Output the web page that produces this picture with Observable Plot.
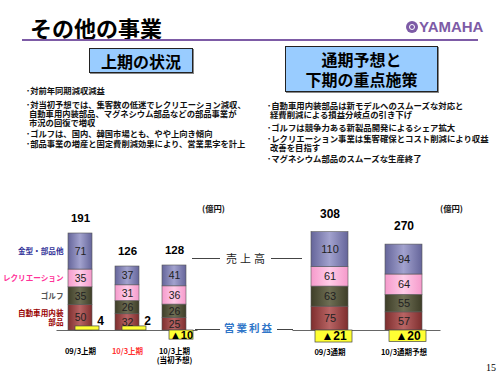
<!DOCTYPE html>
<html><head><meta charset="utf-8">
<script src="https://cdn.jsdelivr.net/npm/d3@7"></script>
<script src="https://cdn.jsdelivr.net/npm/@observablehq/plot@0.6"></script>
<style>
body{margin:0;background:#fff;}
#page{position:relative;width:500px;height:375px;overflow:hidden;font-family:"Noto Sans CJK JP","Noto Sans",sans-serif;color:#000;background:#fff;}
.abs{position:absolute;white-space:nowrap;}
.t{font-size:8.3px;line-height:9px;font-weight:bold;color:#111;}
.tr{font-size:8.4px;line-height:9px;font-weight:bold;color:#111;}
.box{position:absolute;background:#99CCFF;border:1.5px solid #222;box-sizing:border-box;display:flex;align-items:center;justify-content:center;text-align:center;font-weight:bold;font-size:16px;line-height:20px;box-shadow:1px 1px 0 #888;}
.hl{position:absolute;height:1px;background:#444;}
.plotwrap{position:absolute;left:0;top:190px;}
</style></head>
<body><div id="page">
<svg width="0" height="0" style="position:absolute">
  <defs>
    <linearGradient id="gAuto" x1="0" x2="1" y1="0" y2="0"><stop offset="0" stop-color="#7E2E2E"/><stop offset="0.5" stop-color="#B86464"/><stop offset="1" stop-color="#7E2E2E"/></linearGradient>
    <linearGradient id="gGolf" x1="0" x2="1" y1="0" y2="0"><stop offset="0" stop-color="#3E3E28"/><stop offset="0.5" stop-color="#6E6E54"/><stop offset="1" stop-color="#3E3E28"/></linearGradient>
    <linearGradient id="gRec" x1="0" x2="1" y1="0" y2="0"><stop offset="0" stop-color="#F59ACB"/><stop offset="0.5" stop-color="#FFCCE8"/><stop offset="1" stop-color="#F59ACB"/></linearGradient>
    <linearGradient id="gOther" x1="0" x2="1" y1="0" y2="0"><stop offset="0" stop-color="#65659A"/><stop offset="0.5" stop-color="#A2A2CE"/><stop offset="1" stop-color="#65659A"/></linearGradient>
  </defs>
</svg>

<div class="abs" style="left:30px;top:16px;font-size:22px;line-height:22px;font-weight:bold;">その他の事業</div>
<div class="abs" style="left:22px;top:39px;width:456px;height:2px;background:#7D5BA6;"></div>
<div class="abs" style="left:406px;top:21px;width:12px;height:12px;border-radius:50%;background:#7D5BA6;"></div>
<div class="abs" style="left:409px;top:24px;width:4px;height:4px;border-radius:50%;border:1px solid #fff;"></div>
<div class="abs" style="left:419px;top:19px;font-family:'Liberation Sans Narrow','Liberation Sans',sans-serif;font-weight:bold;font-size:15px;line-height:16px;color:#7D5BA6;">YAMAHA</div>

<div class="box" style="left:89px;top:48px;width:104px;height:25px;">上期の状況</div>
<div class="box" style="left:285px;top:46px;width:153px;height:46px;">通期予想と<br>下期の重点施策</div>

<div class="abs t" style="left:26px;top:85.5px;">･対前年同期減収減益</div>
<div class="abs t" style="left:26px;top:99.5px;">･対当初予想では、集客数の低迷でレクリエーション減収、</div>
<div class="abs t" style="left:29px;top:108.5px;">自動車用内装部品、マグネシウム部品などの部品事業が</div>
<div class="abs t" style="left:29px;top:117.5px;">市況の回復で増収</div>
<div class="abs t" style="left:26px;top:128.5px;">･ゴルフは、国内、韓国市場とも、やや上向き傾向</div>
<div class="abs t" style="left:26px;top:138.5px;">･部品事業の増産と固定費削減効果により、営業黒字を計上</div>

<div class="abs tr" style="left:267px;top:100.5px;">･自動車用内装部品は新モデルへのスムーズな対応と</div>
<div class="abs tr" style="left:270px;top:109.5px;">経費削減による損益分岐点の引き下げ</div>
<div class="abs tr" style="left:267px;top:122.5px;">･ゴルフは競争力ある新製品開発によるシェア拡大</div>
<div class="abs tr" style="left:267px;top:133.5px;">･レクリエーション事業は集客確保とコスト削減により収益</div>
<div class="abs tr" style="left:270px;top:142.5px;">改善を目指す</div>
<div class="abs tr" style="left:267px;top:153.5px;">･マグネシウム部品のスムーズな生産終了</div>

<div class="abs t" style="left:202px;top:203.5px;">(億円)</div>
<div class="abs t" style="left:440px;top:203.5px;">(億円)</div>

<div class="plotwrap" id="left"></div>
<div class="plotwrap" id="right"></div>

<div class="hl" style="left:192px;top:258px;width:28px;"></div>
<div class="abs" style="left:226px;top:252px;font-size:11px;line-height:12px;letter-spacing:3px;color:#222;">売上高</div>
<div class="hl" style="left:271px;top:258px;width:31px;"></div>

<div class="hl" style="left:195px;top:329px;width:25px;"></div>
<div class="abs" style="left:224px;top:322px;font-size:10.5px;line-height:12px;letter-spacing:2px;color:#2F75C8;font-weight:bold;">営業利益</div>
<div class="hl" style="left:277px;top:329px;width:16px;"></div>

<div class="abs" style="left:486px;top:362px;font-family:'Liberation Serif',serif;font-size:10px;line-height:12px;">15</div>
</div>
<script>
// ---- data ----
const segments = ["自動車用内装部品", "ゴルフ", "レクリエーション", "金型・部品他"]; // bottom -> top
const segmentLabels = ["自動車用内装\n部品", "ゴルフ", "レクリエーション", "金型・部品他"];
const segmentLabelColors = ["#990000", "#555555", "#FF3399", "#333399"];
const segmentFills = ["url(#gAuto)", "url(#gGolf)", "url(#gRec)", "url(#gOther)"];

const halfCats = ["09/3上期", "10/3上期", "10/3上期(当初予想)"];
const halfTickLabels = ["09/3上期", "10/3上期", "10/3上期\n(当初予想)"];
const halfTickColors = ["#000000", "#FF3333", "#000000"];
const halfAuto = [50, 32, 25];
const halfGolf = [35, 26, 26];
const halfRec = [35, 31, 36];
const halfOther = [71, 37, 41];
const halfTotal = [191, 126, 128];
const halfProfit = [4, 2, -10];

const fullCats = ["09/3通期", "10/3通期予想"];
const fullTickLabels = ["09/3通期", "10/3通期予想"];
const fullTickColors = ["#000000", "#000000"];
const fullAuto = [75, 57];
const fullGolf = [63, 55];
const fullRec = [61, 64];
const fullOther = [110, 94];
const fullTotal = [308, 270];
const fullProfit = [-21, -20];

const CJK = "Noto Sans CJK JP, Noto Sans, sans-serif";

function panel(cfg) {
  const series = cfg.series;
  const rows = cfg.cats.flatMap((c, i) => segments.map((s, j) => ({cat: c, seg: j, value: series[j][i]})));
  const totals = cfg.cats.map((c, i) => ({cat: c, total: cfg.totals[i]}));
  const profits = cfg.cats.map((c, i) => ({cat: c, p: cfg.profit[i]}));
  const box = p => Math.sign(p) * Math.max(Math.abs(p) * 1.8, 8);
  const marks = [
    Plot.ruleY([0], {stroke: "#666", strokeWidth: 1}),
    Plot.barY(rows, {x: "cat", y: "value", fill: d => segmentFills[d.seg], stroke: "#555", strokeWidth: 0.6}),
    Plot.barY(profits, {x: "cat", y1: 0, y2: d => box(d.p), fill: "#FFFF33", stroke: "#444", strokeWidth: 0.7, dx: cfg.pdx}),
    Plot.text(rows, Plot.stackY({x: "cat", y: "value", text: "value", fill: "#222", fontSize: cfg.fs})),
    Plot.text(totals, {x: "cat", y: "total", text: "total", dy: cfg.tdy, fontWeight: "bold", fontSize: cfg.tfs, fill: "#000"}),
    Plot.text(profits.filter(d => d.p > 0), {x: "cat", y: d => box(d.p), text: d => String(d.p), dx: 20, dy: -5, fontWeight: "bold", fontSize: 12, fill: "#000"}),
    Plot.text(profits.filter(d => d.p < 0), {x: "cat", y: d => box(d.p) / 2, text: d => "▲" + Math.abs(d.p), dx: cfg.pdx, fontWeight: "bold", fontSize: cfg.pfs, fill: "#000"}),
    Plot.text(cfg.cats, {x: d => d, frameAnchor: "bottom", text: (d, i) => cfg.tickLabels[i], fill: (d, i) => cfg.tickColors[i], lineAnchor: "top", dy: cfg.xdy, fontSize: 7.5, fontWeight: "bold", fontFamily: CJK, lineHeight: 1.1})
  ];
  if (cfg.legend) {
    const first = rows.filter(d => d.cat === cfg.cats[0]);
    marks.push(Plot.text(first, Plot.stackY({x: "cat", y: "value", text: d => segmentLabels[d.seg], fill: d => segmentLabelColors[d.seg], dx: -17, textAnchor: "end", fontSize: 7.6, fontWeight: "bold", fontFamily: CJK, lineHeight: 1.2})));
  }
  return Plot.plot({
    width: 500, height: 180,
    marginTop: cfg.mt, marginBottom: 40, marginLeft: cfg.ml, marginRight: cfg.mr,
    x: {domain: cfg.cats, paddingInner: cfg.pi, paddingOuter: cfg.pi / 2, axis: null},
    y: {domain: [0, d3.max(cfg.totals)], axis: null},
    color: {type: "identity"},
    style: {background: "transparent", overflow: "visible", fontFamily: "Liberation Sans, Arial, sans-serif"},
    marks
  });
}

document.getElementById("left").appendChild(panel({
  cats: halfCats, tickLabels: halfTickLabels, tickColors: halfTickColors,
  series: [halfAuto, halfGolf, halfRec, halfOther], totals: halfTotal, profit: halfProfit,
  mt: 43, ml: 56.5, mr: 302.5, pi: 0.49, pdx: 7, fs: 10.5, tfs: 11.5, tdy: -15, pfs: 11, xdy: 18, legend: true
}));
document.getElementById("right").appendChild(panel({
  cats: fullCats, tickLabels: fullTickLabels, tickColors: fullTickColors,
  series: [fullAuto, fullGolf, fullRec, fullOther], totals: fullTotal, profit: fullProfit,
  mt: 42, ml: 292.5, mr: 59.5, pi: 0.5, pdx: 4, fs: 11, tfs: 12, tdy: -18, pfs: 12, xdy: 19, legend: false
}));
</script>
</body></html>
